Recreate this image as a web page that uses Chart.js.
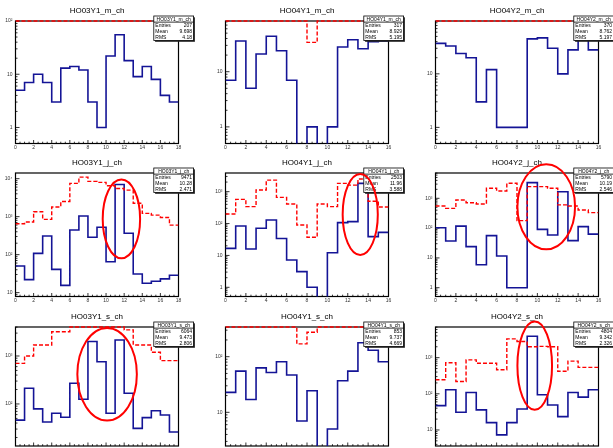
<!DOCTYPE html>
<html>
<head>
<meta charset="utf-8">
<script src="https://cdn.jsdelivr.net/npm/chart.js@4/dist/chart.umd.min.js"></script>
<style>
  html, body { margin: 0; padding: 0; background: #fff; overflow: hidden; width: 613px; height: 448px; }
  canvas { position: absolute; }
</style>
</head>
<body>
<script>
// bin contents, one bin per unit starting at 0 (blue = run, red dashed = reference)
const m03y1 = [5, 7, 10, 7, 3, 13, 14, 12, 3, 1, 22, 55, 18, 9, 14, 8, 4, 3];
const m03y1Ref = [100, 100, 100, 100, 100, 100, 100, 100, 100, 100, 100, 100, 100, 100, 100, 100, 100, 100];
const m04y1 = [7, 36, 5, 21, 44, 24, 7, 0, 1, 0, 1, 28, 38, 26, 35, 36];
const m04y1Ref = [83, 83, 83, 83, 83, 83, 83, 83, 34, 83, 83, 83, 83, 83, 83, 83];
const m04y2 = [37, 33, 24, 20, 3, 12, 1, 1, 1, 45, 47, 30, 10, 28, 60, 28];
const m04y2Ref = [97, 97, 97, 97, 97, 97, 97, 97, 97, 97, 97, 97, 97, 97, 97, 97];

const j03y1 = [50, 22, 108, 310, 41, 15.5, 445, 1040, 286, 525, 65, 7000, 365, 31, 17.6, 20, 23, 28.6];
const j03y1Ref = [650, 720, 1350, 850, 1800, 2500, 7500, 11000, 8500, 8000, 6500, 5500, 5000, 2250, 1220, 1100, 950, 600];
const j04y1 = [16.7, 84, 15.9, 71, 129, 34, 7.2, 3.1, 1, 0, 12.2, 107, 115, 1820, 39, 53];
const j04y1Ref = [200, 575, 340, 1130, 2300, 660, 410, 90, 37, 410, 340, 1820, 1600, 2500, 500, 330];
const j04y2 = [103, 37, 117, 24, 5.9, 56, 11.6, 1, 1, 3360, 91, 59, 1670, 38, 112, 63];
const j04y2Ref = [550, 460, 880, 710, 645, 2170, 1760, 3200, 178, 2460, 2460, 2170, 600, 550, 405, 330];

const s03y1 = [46, 213, 79, 42, 64, 53, 270, 125, 2000, 760, 64, 2150, 167, 31, 52, 72, 59, 26];
const s03y1Ref = [700, 1000, 1700, 1700, 3200, 3200, 4020, 4020, 4020, 4020, 4020, 4020, 3500, 1700, 1700, 1200, 800, 800];
const s04y1 = [22.8, 55, 17, 63, 52, 81, 47, 7, 24.4, 0, 5, 37, 55, 178, 131, 81];
const s04y1Ref = [342, 342, 342, 342, 342, 342, 342, 170, 275, 342, 342, 342, 342, 342, 342, 342];
const s04y2 = [47, 129, 31, 109, 36, 16, 7.3, 16, 38, 3900, 94, 49, 23.4, 109, 81, 129];
const s04y2Ref = [245, 720, 220, 870, 700, 700, 465, 3300, 2800, 2000, 2050, 2000, 420, 800, 540, 540];

const titles = ['HO03Y1_m_ch', 'HO04Y1_m_ch', 'HO04Y2_m_ch',
                'HO03Y1_j_ch', 'HO04Y1_j_ch', 'HO04Y2_j_ch',
                'HO03Y1_s_ch', 'HO04Y1_s_ch', 'HO04Y2_s_ch'];
const entries = ['207', '317', '370', '9471', '2503', '5790', '6064', '853', '4804'];
const means = ['9.698', '8.929', '8.762', '10.28', '11.96', '10.19', '9.473', '9.737', '9.342'];
const rmsValues = ['4.18', '5.195', '5.197', '2.471', '3.588', '2.546', '2.806', '4.669', '2.326'];
const yMins = [0.5, 0.5, 0.5, 7.9, 0.515, 0.507, 13.3, 2.48, 3.6];
const yMaxs = [100, 83, 97, 14100, 3850, 7070, 4020, 342, 7050];
const blues = [m03y1, m04y1, m04y2, j03y1, j04y1, j04y2, s03y1, s04y1, s04y2];
const reds = [m03y1Ref, m04y1Ref, m04y2Ref, j03y1Ref, j04y1Ref, j04y2Ref, s03y1Ref, s04y1Ref, s04y2Ref];

// red ellipses marking the problem bins, in data units [x1, x2, yLow, yHigh]
const ellipses = [null, null, null,
  [9.63, 13.76, 80, 9500], [11.5, 14.95, 10.4, 3560], [8.04, 13.7, 19.5, 13800],
  [6.83, 13.4, 45, 3850], null, [8.04, 11.44, 36, 10000]];

// pad geometry
const ROW_TOP = [0, 152, 306];
const FRAME_BOTTOM = [143.5, 144.5, 140];
const COL_LEFT = [0, 210, 420];
const PAD_W = 210, PAD_H = 153;
const FRAME_TOP = 21, FRAME_LEFT = 15.5, FRAME_RIGHT = 178.5;

const FONT = '"Liberation Sans", Arial, sans-serif';

function stepPoints(vals, lo, hi) {
  const pts = vals.map((v, i) => ({ x: i, y: Math.min(Math.max(v, lo), hi) }));
  pts.push({ x: vals.length, y: pts[pts.length - 1].y });
  return pts;
}

function decadeLabel(v) {
  const e = Math.round(Math.log10(v));
  if (e === 0) return '1';
  if (e === 1) return '10';
  return '10' + { 2: '\u00B2', 3: '\u00B3', 4: '\u2074' }[e];
}

const rootPad = {
  id: 'rootPad',
  beforeDatasetsDraw(chart) {
    const { ctx, chartArea: a, scales: { x, y } } = chart;
    ctx.save();
    ctx.strokeStyle = '#000';
    ctx.lineWidth = 1.2;
    ctx.strokeRect(a.left, a.top, a.right - a.left, a.bottom - a.top);
    ctx.lineWidth = 0.8;
    ctx.beginPath();
    for (let v = x.min; v <= x.max + 1e-6; v += 0.5) {
      const px = x.getPixelForValue(v);
      const len = Math.abs(v % 2) < 1e-6 ? 3.5 : 1.8;
      ctx.moveTo(px, a.bottom);
      ctx.lineTo(px, a.bottom - len);
    }
    const e0 = Math.floor(Math.log10(y.min)), e1 = Math.ceil(Math.log10(y.max));
    for (let e = e0; e <= e1; e++) {
      for (let k = 1; k <= 9; k++) {
        const v = k * Math.pow(10, e);
        if (v < y.min || v > y.max) continue;
        const py = y.getPixelForValue(v);
        ctx.moveTo(a.left, py);
        ctx.lineTo(a.left + (k === 1 ? 4 : 2), py);
      }
    }
    ctx.stroke();
    ctx.restore();
  },
  afterDraw(chart, args, opts) {
    const { ctx, chartArea: a, scales: { x, y } } = chart;
    ctx.save();
    ctx.fillStyle = '#000';
    ctx.font = '8px ' + FONT;
    ctx.textAlign = 'center';
    ctx.textBaseline = 'middle';
    ctx.fillText(opts.title, (a.left + a.right) / 2, 11);

    // stats box
    const bx = 153.8, by = 16, bw = 39.8, bh = 24.5, rh = bh / 4;
    ctx.fillStyle = '#222';
    ctx.fillRect(bx + 1.3, by + 1.3, bw, bh);
    ctx.fillStyle = '#fff';
    ctx.fillRect(bx, by, bw, bh);
    ctx.strokeStyle = '#000';
    ctx.lineWidth = 0.8;
    ctx.strokeRect(bx, by, bw, bh);
    ctx.beginPath();
    ctx.moveTo(bx, by + rh);
    ctx.lineTo(bx + bw, by + rh);
    ctx.stroke();
    ctx.fillStyle = '#000';
    ctx.font = '5px ' + FONT;
    ctx.textAlign = 'center';
    ctx.fillText(opts.title, bx + bw / 2, by + rh / 2 + 0.3);
    const rows = [['Entries', opts.entries], ['Mean', opts.mean], ['RMS', opts.rms]];
    rows.forEach((r, i) => {
      const ty = by + rh * (i + 1.5) + 0.3;
      ctx.textAlign = 'left';
      ctx.fillText(r[0], bx + 1.5, ty);
      ctx.textAlign = 'right';
      ctx.fillText(r[1], bx + bw - 1.5, ty);
    });

    if (opts.ellipse) {
      const [x1, x2, yl, yh] = opts.ellipse;
      const px1 = x.getPixelForValue(x1), px2 = x.getPixelForValue(x2);
      const py1 = y.getPixelForValue(yh), py2 = y.getPixelForValue(yl);
      ctx.strokeStyle = '#ff0000';
      ctx.lineWidth = 2;
      ctx.beginPath();
      ctx.ellipse((px1 + px2) / 2, (py1 + py2) / 2, (px2 - px1) / 2, (py2 - py1) / 2, 0, 0, Math.PI * 2);
      ctx.stroke();
    }
    ctx.restore();
  }
};

titles.forEach((title, i) => {
  const row = Math.floor(i / 3), col = i % 3;
  const cv = document.createElement('canvas');
  cv.width = PAD_W;
  cv.height = PAD_H;
  cv.style.left = COL_LEFT[col] + 'px';
  cv.style.top = ROW_TOP[row] + 'px';
  document.body.appendChild(cv);

  const nBins = blues[i].length;
  const lo = yMins[i] / 4, hi = yMaxs[i];

  new Chart(cv, {
    type: 'line',
    data: {
      datasets: [
        {
          data: stepPoints(reds[i], lo, hi),
          borderColor: '#ff0000',
          borderWidth: 1.4,
          borderDash: [4, 2],
          stepped: true,
          pointRadius: 0,
          fill: false,
          clip: { left: 0, top: 2, right: 0, bottom: 0 },
          order: 0
        },
        {
          data: stepPoints(blues[i], lo, hi),
          borderColor: 'rgb(20, 20, 150)',
          borderWidth: 1.6,
          stepped: true,
          pointRadius: 0,
          fill: false,
          clip: { left: 0, top: 2, right: 0, bottom: 0 },
          order: 1
        }
      ]
    },
    options: {
      responsive: false,
      animation: false,
      events: [],
      layout: { padding: { top: FRAME_TOP, right: PAD_W - FRAME_RIGHT, left: 0, bottom: 0 } },
      plugins: {
        legend: { display: false },
        tooltip: { enabled: false },
        rootPad: {
          title: title,
          entries: entries[i],
          mean: means[i],
          rms: rmsValues[i],
          ellipse: ellipses[i]
        }
      },
      scales: {
        x: {
          type: 'linear',
          min: 0,
          max: nBins,
          grid: { display: false, drawTicks: false },
          border: { display: false },
          ticks: { stepSize: 2, padding: 1.5, color: '#333', font: { size: 5, family: FONT }, maxRotation: 0 },
          afterFit: s => { s.height = PAD_H - FRAME_BOTTOM[row]; }
        },
        y: {
          type: 'logarithmic',
          min: yMins[i],
          max: yMaxs[i],
          grid: { display: false, drawTicks: false },
          border: { display: false },
          afterBuildTicks: s => {
            const t = [];
            for (let e = Math.ceil(Math.log10(s.min)); Math.pow(10, e) <= s.max; e++) t.push({ value: Math.pow(10, e) });
            s.ticks = t;
          },
          ticks: { padding: 3, color: '#333', font: { size: 5, family: FONT }, callback: v => decadeLabel(v) },
          afterFit: s => { s.width = FRAME_LEFT; }
        }
      }
    },
    plugins: [rootPad]
  });
});
</script>
</body>
</html>
